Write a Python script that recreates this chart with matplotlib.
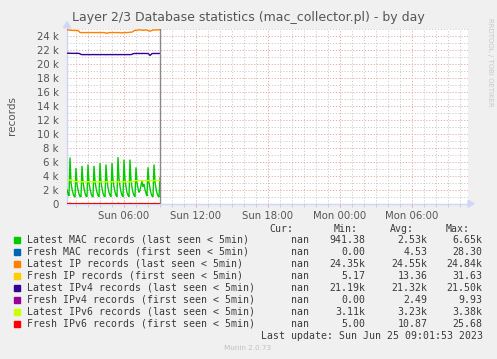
import numpy as np
import matplotlib
matplotlib.use("Agg")
import matplotlib.pyplot as plt

# ---------------- data (values in records, 5-minute steps) ----------------
start_hour = 1.25          # Sun 01:15
step_hours = 5.0 / 60.0

latest_mac_k = [
    2.0, 1.4, 1.1, 6.6, 3.0, 2.1, 1.5, 1.1, 0.95,
    5.1, 2.8, 2.0, 1.4, 1.05, 0.98,
    5.4, 3.1, 2.2, 1.5, 1.1, 1.0,
    5.6, 3.0, 2.1, 1.5, 1.1, 0.96,
    5.4, 3.2, 2.3, 1.6, 1.2, 1.0,
    5.8, 3.1, 2.2, 1.5, 1.1, 0.99,
    5.6, 3.3, 2.3, 1.6, 1.2, 1.0,
    5.8, 3.4, 2.4, 1.7, 1.2, 1.0,
    6.65, 3.5, 2.5, 1.7, 1.2, 1.0,
    6.3, 3.4, 2.4, 1.6, 1.2, 0.99,
    6.3, 3.3, 2.3, 1.6, 1.2, 1.0,
    5.2, 3.0, 2.2, 1.6, 1.9, 2.6,
    3.2, 2.4, 2.8, 2.0, 1.5, 1.1,
    5.2, 3.0, 2.2, 1.5, 1.1, 0.99,
    5.6, 3.1, 2.2, 1.5, 1.1, 0.94,
    3.7,
]

latest_ip_k = [
    24.84, 24.83, 24.82, 24.80, 24.78, 24.76, 24.76, 24.76, 24.75, 24.75,
    24.74, 24.74, 24.60, 24.46, 24.45, 24.45, 24.45, 24.44, 24.45, 24.45,
    24.45, 24.44, 24.45, 24.45, 24.45, 24.45, 24.45, 24.44, 24.45, 24.45,
    24.45, 24.45, 24.45, 24.45, 24.44, 24.45, 24.45, 24.45, 24.42, 24.38,
    24.35, 24.40, 24.45, 24.45, 24.45, 24.45, 24.45, 24.45, 24.45, 24.45,
    24.45, 24.45, 24.45, 24.44, 24.43, 24.40, 24.43, 24.45, 24.45, 24.45,
    24.45, 24.46, 24.48, 24.50, 24.50, 24.52, 24.60, 24.70, 24.76, 24.78,
    24.80, 24.80, 24.82, 24.84, 24.82, 24.80, 24.78, 24.78, 24.80, 24.82,
    24.80, 24.75, 24.68, 24.65, 24.70, 24.76, 24.80, 24.82, 24.82, 24.83,
    24.83, 24.84, 24.84, 24.84,
]

latest_ipv4_k = [
    21.50, 21.50, 21.49, 21.49, 21.49, 21.48, 21.48, 21.48, 21.48, 21.48,
    21.48, 21.48, 21.48, 21.40, 21.32, 21.30, 21.30, 21.30, 21.29, 21.30,
    21.30, 21.30, 21.30, 21.29, 21.30, 21.30, 21.30, 21.30, 21.30, 21.30,
    21.29, 21.30, 21.30, 21.30, 21.30, 21.30, 21.30, 21.30, 21.30, 21.29,
    21.30, 21.30, 21.30, 21.30, 21.30, 21.30, 21.30, 21.30, 21.30, 21.30,
    21.30, 21.29, 21.30, 21.30, 21.30, 21.30, 21.30, 21.30, 21.30, 21.30,
    21.30, 21.30, 21.30, 21.30, 21.30, 21.35, 21.42, 21.45, 21.46, 21.46,
    21.46, 21.46, 21.46, 21.46, 21.46, 21.46, 21.46, 21.46, 21.46, 21.46,
    21.46, 21.45, 21.35, 21.19, 21.30, 21.44, 21.46, 21.46, 21.46, 21.46,
    21.46, 21.46, 21.46, 21.46,
]

latest_ipv6_k = [
    3.38, 3.38, 3.37, 3.37, 3.36, 3.35, 3.30, 3.24, 3.19, 3.16,
    3.15, 3.15, 3.14, 3.14, 3.14, 3.13, 3.14, 3.14, 3.13, 3.13,
    3.14, 3.13, 3.13, 3.12, 3.13, 3.13, 3.13, 3.12, 3.13, 3.12,
    3.12, 3.12, 3.12, 3.11, 3.12, 3.12, 3.12, 3.12, 3.11, 3.12,
    3.12, 3.12, 3.12, 3.12, 3.12, 3.12, 3.12, 3.12, 3.12, 3.12,
    3.12, 3.12, 3.12, 3.12, 3.12, 3.12, 3.12, 3.12, 3.12, 3.12,
    3.12, 3.12, 3.12, 3.12, 3.12, 3.13, 3.16, 3.22, 3.27, 3.29,
    3.29, 3.30, 3.30, 3.30, 3.30, 3.29, 3.30, 3.30, 3.30, 3.30,
    3.30, 3.30, 3.30, 3.30, 3.30, 3.30, 3.31, 3.31, 3.31, 3.31,
    3.31, 3.31, 3.32, 3.32,
]

fresh_mac = [
    5, 2, 0, 28, 8, 3, 1, 0, 0, 12, 4, 1, 0, 0, 0, 9, 3, 1, 0, 0,
    0, 14, 5, 2, 0, 0, 0, 10, 3, 1, 0, 0, 0, 16, 6, 2, 0, 0, 0, 11,
    4, 1, 0, 0, 0, 13, 5, 2, 0, 0, 0, 20, 7, 2, 0, 0, 0, 15, 5, 2,
    0, 0, 0, 14, 4, 1, 0, 0, 0, 8, 3, 1, 2, 4, 3, 6, 3, 4, 2, 1,
    0, 10, 3, 1, 0, 0, 0, 12, 4, 1, 0, 0, 0, 6,
]
fresh_ip = [
    18, 12, 8, 31, 16, 10, 7, 6, 5, 22, 14, 9, 7, 6, 6, 24, 14, 9, 7, 6,
    5, 25, 15, 10, 7, 6, 6, 22, 13, 9, 7, 6, 5, 27, 15, 10, 7, 6, 6, 24,
    14, 9, 7, 6, 5, 26, 16, 10, 7, 6, 6, 30, 17, 11, 8, 6, 6, 28, 16, 10,
    7, 6, 5, 27, 15, 10, 7, 6, 6, 20, 12, 9, 10, 13, 11, 15, 12, 13, 10, 8,
    6, 22, 13, 9, 7, 6, 6, 24, 14, 9, 7, 6, 5, 16,
]
fresh_ipv4 = [
    3, 2, 1, 9.9, 4, 2, 1, 0, 0, 5, 2, 1, 0, 0, 0, 6, 3, 1, 0, 0,
    0, 7, 3, 1, 0, 0, 0, 5, 2, 1, 0, 0, 0, 8, 3, 1, 0, 0, 0, 6,
    2, 1, 0, 0, 0, 7, 3, 1, 0, 0, 0, 9, 4, 2, 1, 0, 0, 8, 3, 1,
    0, 0, 0, 7, 3, 1, 0, 0, 0, 5, 2, 1, 2, 3, 2, 4, 2, 3, 2, 1,
    0, 6, 2, 1, 0, 0, 0, 7, 3, 1, 0, 0, 0, 4,
]
fresh_ipv6 = [
    14, 9, 6, 25.7, 13, 8, 6, 5, 5, 17, 11, 7, 6, 5, 5, 18, 11, 7, 6, 5,
    5, 19, 12, 8, 6, 5, 5, 17, 10, 7, 6, 5, 5, 20, 12, 8, 6, 5, 5, 18,
    11, 7, 6, 5, 5, 19, 12, 8, 6, 5, 5, 24, 14, 9, 6, 5, 5, 22, 13, 8,
    6, 5, 5, 21, 12, 8, 6, 5, 5, 15, 10, 7, 8, 10, 9, 12, 9, 10, 8, 6,
    5, 17, 10, 7, 6, 5, 5, 19, 11, 7, 6, 5, 5, 12,
]

series_labels = [
    "Latest MAC records (last seen < 5min)",
    "Fresh MAC records (first seen < 5min)",
    "Latest IP records (last seen < 5min)",
    "Fresh IP records (first seen < 5min)",
    "Latest IPv4 records (last seen < 5min)",
    "Fresh IPv4 records (first seen < 5min)",
    "Latest IPv6 records (last seen < 5min)",
    "Fresh IPv6 records (first seen < 5min)",
]
series_colors = ["#00CC00", "#0066B3", "#FF8000", "#FFCC00",
                 "#330099", "#990099", "#CCFF00", "#FF0000"]
cur_vals = ["nan"] * 8
min_vals = ["941.38", "0.00", "24.35k", "5.17", "21.19k", "0.00", "3.11k", "5.00"]
avg_vals = ["2.53k", "4.53", "24.55k", "13.36", "21.32k", "2.49", "3.23k", "10.87"]
max_vals = ["6.65k", "28.30", "24.84k", "31.63", "21.50k", "9.93", "3.38k", "25.68"]

x_tick_hours = [6, 12, 18, 24, 30]
x_tick_labels = ["Sun 06:00", "Sun 12:00", "Sun 18:00", "Mon 00:00", "Mon 06:00"]
y_ticks = list(range(0, 25000, 2000))
y_tick_labels = ["0", "2 k", "4 k", "6 k", "8 k", "10 k", "12 k", "14 k",
                 "16 k", "18 k", "20 k", "22 k", "24 k"]

title = "Layer 2/3 Database statistics (mac_collector.pl) - by day"
last_update = "Last update: Sun Jun 25 09:01:53 2023"

# ---------------- figure ----------------
W, H = 497, 359
fig = plt.figure(figsize=(W / 100, H / 100), dpi=100, facecolor="#F0F0F0")

px_left, px_right, px_top, px_bottom = 67, 468, 28.7, 203.7
ax = fig.add_axes([px_left / W, 1 - px_bottom / H,
                   (px_right - px_left) / W, (px_bottom - px_top) / H])
ax.set_facecolor("white")
x_min = start_hour
x_max = start_hour + (px_right - px_left) / 12.0
ax.set_xlim(x_min, x_max)
ax.set_ylim(0, 25000)
for s in ax.spines.values():
    s.set_visible(False)

# grid
major_col = "#E2A8A8"
minor_col = "#CCCCCC"
dash = (0, (1.2, 1.8))
for h in np.arange(2, 35, 1):
    if h > x_max:
        break
    ax.axvline(h, color=major_col if h % 6 == 0 else minor_col,
               lw=0.7, linestyle=dash, zorder=1)
for v in range(1000, 25001, 1000):
    ax.axhline(v, color=major_col if v % 2000 == 0 else minor_col,
               lw=0.7, linestyle=dash, zorder=1)

ax.set_xticks(x_tick_hours)
ax.set_xticklabels(x_tick_labels)
ax.set_xticks(np.arange(2, 35, 1), minor=True)
ax.set_yticks(y_ticks)
ax.set_yticklabels(y_tick_labels)
ax.tick_params(axis="both", which="major", labelsize=7.3, labelcolor="#555555",
               color=major_col, length=2, width=0.7, pad=3)
ax.tick_params(axis="both", which="minor", color=minor_col, length=2, width=0.7)
ax.tick_params(axis="y", which="both", length=0, pad=6)

# data
n = len(latest_mac_k)
t = start_hour + step_hours * np.arange(n)
series = [
    np.array(latest_mac_k) * 1000, np.array(fresh_mac, float),
    np.array(latest_ip_k) * 1000, np.array(fresh_ip, float),
    np.array(latest_ipv4_k) * 1000, np.array(fresh_ipv4, float),
    np.array(latest_ipv6_k) * 1000, np.array(fresh_ipv6, float),
]
for i, (ys, c) in enumerate(zip(series, series_colors)):
    ax.plot(t, ys, color=c, lw=1.0, zorder=3 + i, solid_joinstyle="miter")

# "now" line
ax.axvline(t[-1] + 0.01, color="#888888", lw=1.0, zorder=12)

# axes lines & arrows (munin style)
axis_col = "#CFD6F8"
ax.plot([x_min, x_max], [0, 0], color=axis_col, lw=1.0, zorder=2, clip_on=False)
ax.plot([x_min, x_min], [0, 25300], color=axis_col, lw=1.0, zorder=2, clip_on=False)
fig.patches.append(plt.Polygon(
    [[(px_right) / W, 1 - (px_bottom - 3.5) / H],
     [(px_right) / W, 1 - (px_bottom + 3.5) / H],
     [(px_right + 6) / W, 1 - px_bottom / H]],
    closed=True, transform=fig.transFigure, color=axis_col, zorder=20))
fig.patches.append(plt.Polygon(
    [[(px_left - 3.5) / W, 1 - (px_top - 1) / H],
     [(px_left + 3.5) / W, 1 - (px_top - 1) / H],
     [(px_left) / W, 1 - (px_top - 7) / H]],
    closed=True, transform=fig.transFigure, color=axis_col, zorder=20))

# title / labels
fig.text(248 / W, 1 - 17 / H, title, ha="center", va="center",
         fontsize=9.0, color="#555555")
fig.text(12 / W, 1 - 115 / H, "records", rotation=90, ha="center", va="center",
         fontsize=7.5, color="#555555")
fig.text(490 / W, 1 - 18 / H, "RRDTOOL / TOBI OETIKER", rotation=270,
         ha="center", va="top", fontsize=5.0, color="#C8C8C8")

# legend table
mono = dict(family="DejaVu Sans Mono", fontsize=7.1, color="#3a3a3a")
hdr_y = 228.5
for txt, xr in zip(["Cur:", "Min:", "Avg:", "Max:"], [293, 358, 414, 470]):
    fig.text(xr / W, 1 - hdr_y / H, txt, ha="right", va="center", **mono)
row0, dy = 239.7, 12.0
for i in range(8):
    y = row0 + i * dy
    fig.patches.append(plt.Rectangle(((14) / W, 1 - (y + 2.8) / H), 5.5 / W, 5.5 / H,
                                     transform=fig.transFigure,
                                     color=series_colors[i], zorder=20))
    fig.text(26.7 / W, 1 - y / H, series_labels[i], ha="left", va="center", **mono)
    fig.text(309.5 / W, 1 - y / H, cur_vals[i], ha="right", va="center", **mono)
    fig.text(365 / W, 1 - y / H, min_vals[i], ha="right", va="center", **mono)
    fig.text(427.5 / W, 1 - y / H, avg_vals[i], ha="right", va="center", **mono)
    fig.text(482.7 / W, 1 - y / H, max_vals[i], ha="right", va="center", **mono)
fig.text(482.7 / W, 1 - 335.7 / H, last_update, ha="right", va="center", **mono)
fig.text(248 / W, 1 - 348.5 / H, "Munin 2.0.73", ha="center", va="center",
         fontsize=5.2, color="#C0C0C0")

fig.savefig("out.png", dpi=100, facecolor=fig.get_facecolor())
